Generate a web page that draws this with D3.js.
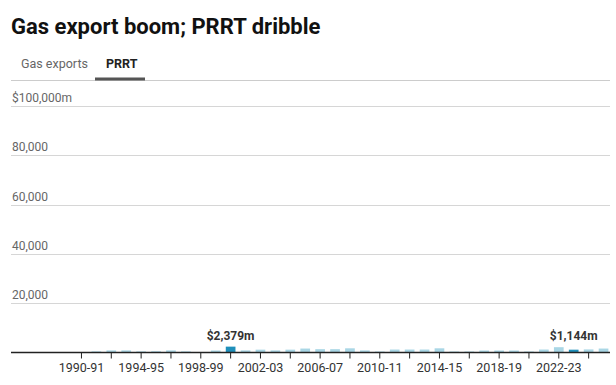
<!DOCTYPE html>
<html>
<head>
<meta charset="utf-8">
<script src="https://cdn.jsdelivr.net/npm/d3@7"></script>
<style>
  body { margin: 0; background: #fff; }
  svg { display: block; font-family: Roboto, sans-serif; }
</style>
</head>
<body>
<svg width="616" height="385"></svg>
<script>
// PRRT receipts by financial year, $m
const years = [
  '1990-91', '1991-92', '1992-93', '1993-94', '1994-95', '1995-96', '1996-97', '1997-98',
  '1998-99', '1999-00', '2000-01', '2001-02', '2002-03', '2003-04', '2004-05', '2005-06',
  '2006-07', '2007-08', '2008-09', '2009-10', '2010-11', '2011-12', '2012-13', '2013-14',
  '2014-15', '2015-16', '2016-17', '2017-18', '2018-19', '2019-20', '2020-21', '2021-22',
  '2022-23', '2023-24', '2024-25', '2025-26',
];
const prrt = [
  0, 450, 850, 850, 450, 500, 850, 450,
  150, 800, 2379, 850, 1150, 850, 1150, 1600,
  1350, 1350, 1700, 850, 400, 1200, 1200, 1200,
  1700, 400, 400, 800, 800, 800, 400, 1200,
  2150, 1144, 1250, 1600,
];
const highlighted = ['2000-01', '2023-24'];
const yTicks = [0, 20000, 40000, 60000, 80000, 100000];
const xLabels = ['1990-91', '1994-95', '1998-99', '2002-03', '2006-07', '2010-11', '2014-15', '2018-19', '2022-23'];
const tabs = ['Gas exports', 'PRRT'];

const svg = d3.select('svg');
const left = 11;
const right = 610;

const data = years.map((year, i) => ({ year, value: prrt[i] }));

const x = d3.scaleBand()
  .domain(years)
  .range([74, 611])
  .paddingInner(0.35)
  .paddingOuter(0.175);

const y = d3.scaleLinear()
  .domain([0, 100000])
  .range([352.5, 106]);

// title + tabs
svg.append('text')
  .attr('x', left)
  .attr('y', 34)
  .attr('font-size', 22)
  .attr('font-weight', 700)
  .attr('fill', '#111')
  .text('Gas export boom; PRRT dribble');

svg.append('line')
  .attr('x1', left).attr('x2', right)
  .attr('y1', 80.5).attr('y2', 80.5)
  .attr('stroke', '#ccc');

svg.append('text')
  .attr('x', 21).attr('y', 68)
  .attr('font-size', 12.5)
  .attr('fill', '#666')
  .text(tabs[0]);

svg.append('text')
  .attr('x', 106).attr('y', 68)
  .attr('font-size', 12.5)
  .attr('font-weight', 700)
  .attr('fill', '#222')
  .text(tabs[1]);

svg.append('rect')
  .attr('x', 95).attr('y', 77.5)
  .attr('width', 50).attr('height', 3)
  .attr('fill', '#555');

// gridlines + y labels
const grid = svg.append('g');
grid.selectAll('line')
  .data(yTicks.slice(1))
  .join('line')
  .attr('x1', left).attr('x2', right)
  .attr('y1', d => Math.round(y(d)) + 0.5)
  .attr('y2', d => Math.round(y(d)) + 0.5)
  .attr('stroke', '#d6d6d6');

grid.selectAll('text')
  .data(yTicks.slice(1))
  .join('text')
  .attr('x', left + 1)
  .attr('y', d => y(d) - 4)
  .attr('font-size', 12)
  .attr('fill', '#666')
  .text(d => (d === 100000 ? '$' + d3.format(',')(d) + 'm' : d3.format(',')(d)));

// bars
svg.append('g')
  .selectAll('rect')
  .data(data)
  .join('rect')
  .attr('x', d => x(d.year))
  .attr('width', x.bandwidth())
  .attr('y', d => y(d.value))
  .attr('height', d => y(0) - y(d.value))
  .attr('fill', d => (highlighted.includes(d.year) ? '#1f8fba' : '#a9d6e5'));

// annotations
svg.append('g')
  .selectAll('text')
  .data(data.filter(d => highlighted.includes(d.year)))
  .join('text')
  .attr('x', d => x(d.year) + x.bandwidth() / 2)
  .attr('y', 339.5)
  .attr('text-anchor', 'middle')
  .attr('font-size', 12)
  .attr('font-weight', 700)
  .attr('fill', '#333')
  .text(d => '$' + d3.format(',')(d.value) + 'm');

// x axis
const xAxis = d3.axisBottom(x)
  .tickValues(years.filter((d, i) => i % 2 === 0))
  .tickSize(6)
  .tickSizeOuter(0)
  .tickFormat(d => (xLabels.includes(d) ? d : ''));

const gx = svg.append('g')
  .attr('transform', `translate(0,${y(0)})`)
  .call(xAxis);

gx.select('.domain').remove();
gx.selectAll('.tick line').attr('stroke', '#222');
gx.selectAll('.tick text')
  .attr('font-family', 'Roboto, sans-serif')
  .attr('font-size', 12.5)
  .attr('fill', '#333')
  .attr('y', 11);

svg.append('line')
  .attr('x1', left).attr('x2', right)
  .attr('y1', y(0)).attr('y2', y(0))
  .attr('stroke', '#222')
  .attr('stroke-width', 1.5);
</script>
</body>
</html>
